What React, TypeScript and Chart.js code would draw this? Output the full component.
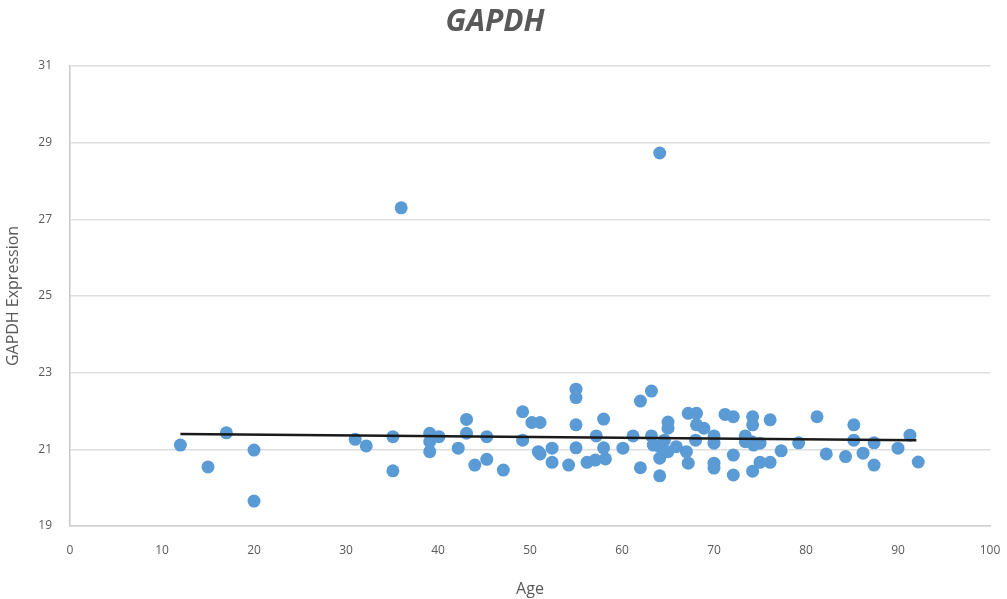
import React, { useEffect, useRef } from "react";
import { Chart, registerables } from "chart.js";

Chart.register(...registerables);

const chartTitle = "GAPDH";
const xAxisTitle = "Age";
const yAxisTitle = "GAPDH Expression";

const xTicks = [0, 10, 20, 30, 40, 50, 60, 70, 80, 90, 100];
const yTicks = [19, 21, 23, 25, 27, 29, 31];

const ages = [
  12, 15, 17, 20, 20, 31, 32.2, 35.1, 35.1, 36,
  39.1, 39.1, 39.1, 40.1, 42.2, 43.1, 43.1, 44, 45.3, 45.3,
  47.1, 49.2, 49.2, 50.2, 51.1, 50.9, 51.1, 52.4, 52.4, 54.2,
  55, 55, 55, 55, 56.2, 57.2, 57.1, 58, 58, 58.2,
  60.1, 61.2, 62, 62, 63.2, 63.2, 63.4, 64.1, 64.1, 64.1,
  65, 65, 64.6, 64.1, 65, 65.9, 67, 67.2, 68.1, 68.1,
  68.9, 68, 67.2, 70, 70, 70, 70, 71.2, 72.1, 72.1,
  72.1, 73.4, 73.4, 74.2, 74.2, 74.1, 74.3, 74.2, 75, 75,
  76.1, 76.1, 77.3, 79.2, 81.2, 82.2, 84.3, 85.2, 85.2, 86.2,
  87.4, 87.4, 90, 91.3, 92.2,
];

const expression = [
  21.11, 20.54, 21.43, 20.98, 19.65, 21.26, 21.09, 21.33, 20.44, 27.3,
  21.42, 21.2, 20.94, 21.33, 21.03, 21.78, 21.42, 20.59, 21.33, 20.74,
  20.46, 21.98, 21.24, 21.7, 21.7, 20.94, 20.88, 21.03, 20.66, 20.59,
  22.57, 22.35, 21.64, 21.04, 20.66, 21.35, 20.72, 21.79, 21.04, 20.75,
  21.03, 21.35, 22.26, 20.52, 22.52, 21.35, 21.11, 28.73, 20.77, 20.31,
  21.71, 21.55, 21.24, 21.07, 20.94, 21.07, 20.94, 21.94, 21.94, 21.64,
  21.55, 21.24, 20.64, 21.35, 21.16, 20.64, 20.51, 21.91, 21.85, 20.85,
  20.33, 21.35, 21.2, 21.85, 21.64, 21.2, 21.11, 20.43, 21.16, 20.66,
  21.77, 20.66, 20.96, 21.17, 21.85, 20.88, 20.81, 21.64, 21.24, 20.9,
  21.17, 20.59, 21.03, 21.37, 20.67,
];

const trendAges = [12, 92];
const trendValues = [21.4, 21.24];

const textColor = "#595959";
const fontFamily = "'Open Sans', sans-serif";

export default function App() {
  const canvasRef = useRef<HTMLCanvasElement | null>(null);

  useEffect(() => {
    if (!canvasRef.current) return;
    const points = ages.map((a, i) => ({ x: a, y: expression[i] }));
    const trend = trendAges.map((a, i) => ({ x: a, y: trendValues[i] }));

    const chart = new Chart(canvasRef.current, {
      type: "scatter",
      data: {
        datasets: [
          {
            label: "Trend",
            data: trend,
            showLine: true,
            borderColor: "#1a1a1a",
            borderWidth: 2.5,
            pointRadius: 0,
            order: 0,
          },
          {
            label: "GAPDH",
            data: points,
            backgroundColor: "#5B9BD5",
            borderColor: "#5B9BD5",
            borderWidth: 0,
            pointRadius: 6.5,
            pointHoverRadius: 6.5,
            order: 1,
          },
        ],
      },
      options: {
        animation: false,
        responsive: false,
        devicePixelRatio: 1,
        events: [],
        layout: { padding: { left: 0, right: 17, top: 0, bottom: 0 } },
        plugins: {
          legend: { display: false },
          tooltip: { enabled: false },
          title: {
            display: true,
            text: chartTitle,
            color: textColor,
            font: { family: fontFamily, size: 30, weight: "bold", style: "italic" },
            padding: { top: 4, bottom: 26 },
          },
        },
        scales: {
          x: {
            type: "linear",
            min: 0,
            max: 100,
            afterBuildTicks: (scale: any) => {
              scale.ticks = xTicks.map((v) => ({ value: v }));
            },
            afterFit: (scale: any) => {
              scale.height = 73;
              scale.paddingRight = 0;
            },
            grid: { display: false, drawTicks: false },
            border: { display: true, color: "#d0d0d0", width: 1.5 },
            ticks: {
              color: textColor,
              font: { family: fontFamily, size: 12 },
              padding: 17,
            },
            title: {
              display: true,
              text: xAxisTitle,
              color: textColor,
              font: { family: fontFamily, size: 16 },
              padding: { top: 8, bottom: 0 },
            },
          },
          y: {
            type: "linear",
            min: 19,
            max: 31,
            afterBuildTicks: (scale: any) => {
              scale.ticks = yTicks.map((v) => ({ value: v }));
            },
            afterFit: (scale: any) => {
              scale.width = 70;
            },
            grid: { color: "#dedede", lineWidth: 1.5, drawTicks: false },
            border: { display: true, color: "#c8c8c8", width: 1.5 },
            ticks: {
              color: textColor,
              font: { family: fontFamily, size: 12 },
              padding: 18,
            },
            title: {
              display: true,
              text: yAxisTitle,
              color: textColor,
              font: { family: fontFamily, size: 16 },
              padding: { top: 4, bottom: 0 },
            },
          },
        },
      },
    });

    return () => chart.destroy();
  }, []);

  return (
    <div style={{ position: "fixed", left: 0, top: 0, width: 1007, height: 599, background: "#fff" }}>
      <canvas ref={canvasRef} width={1007} height={599} style={{ display: "block" }} />
    </div>
  );
}
